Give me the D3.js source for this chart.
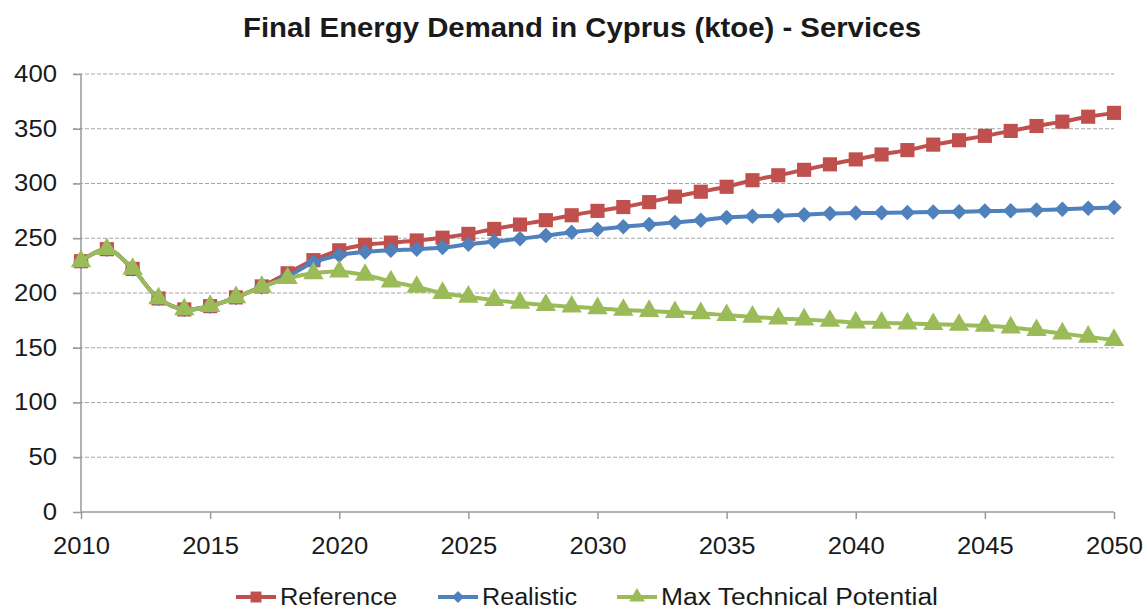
<!DOCTYPE html>
<html>
<head>
<meta charset="utf-8">
<script src="https://cdn.jsdelivr.net/npm/d3@7"></script>
<style>
  body { margin: 0; background: #fff; }
  svg text { font-family: "Liberation Sans", Arial, sans-serif; fill: #1a1a1a; }
  .grid line { stroke: #a6a6a6; stroke-dasharray: 4,2; }
  .axis path, .axis line { stroke: #9a9a9a; stroke-width: 1.5; }
</style>
</head>
<body>
<div class="chart"></div>
<script>
var years = [2010, 2011, 2012, 2013, 2014, 2015, 2016, 2017, 2018, 2019,
             2020, 2021, 2022, 2023, 2024, 2025, 2026, 2027, 2028, 2029,
             2030, 2031, 2032, 2033, 2034, 2035, 2036, 2037, 2038, 2039,
             2040, 2041, 2042, 2043, 2044, 2045, 2046, 2047, 2048, 2049, 2050];

var reference = [229, 240, 222, 195, 185, 188, 196, 206, 218, 230,
                 239, 244, 246, 248, 250.5, 254, 258.5, 262.5, 266.5, 271,
                 275, 278.5, 283, 288, 292.5, 297, 303, 307.5, 312.5, 317.5,
                 322, 326.5, 330.5, 335.5, 339.5, 343.5, 348, 352.5, 356.5, 361, 364.5];

var realistic = [229, 240, 222, 195, 185, 188, 196, 205.5, 215, 228,
                 234.5, 237.5, 239, 240, 241.5, 244.5, 247, 249.5, 252.5, 255.5,
                 258, 260.5, 262.5, 264.5, 266.5, 269, 270, 270.5, 271.5, 272.5,
                 273, 273.2, 273.6, 273.9, 274.2, 274.8, 275.1, 275.7, 276.5, 277.3, 278];

var maxTech = [229, 240, 222, 195, 185, 188, 196, 205.5, 213.5, 218,
               219.5, 216.5, 210.5, 205.5, 200, 196.5, 193.5, 191, 189, 187.5,
               186, 184.5, 183.5, 182.5, 181.5, 179.7, 178.2, 176.7, 175.8, 174.5,
               173, 172.7, 172.1, 171.5, 170.8, 170, 168.5, 166, 163, 160, 157];

var seriesNames = ["Reference", "Realistic", "Max Technical Potential"];
var yTicks = [0, 50, 100, 150, 200, 250, 300, 350, 400];
var xTicks = [2010, 2015, 2020, 2025, 2030, 2035, 2040, 2045, 2050];
var title = "Final Energy Demand in Cyprus (ktoe) - Services";

var W = 1146, H = 609;
var margin = {top: 74, right: 32, bottom: 97, left: 81},
    width = W - margin.left - margin.right,
    height = H - margin.top - margin.bottom;

var colors = ["#c0504d", "#4f81bd", "#9bbb59"];
// square, diamond (square turned 45deg), triangle
var symbols = [d3.symbolSquare, d3.symbolSquare, d3.symbolTriangle];
var symSizes = [200, 120, 180];
var symRot = [0, 45, 0];

var svg0 = d3.select(".chart").append("svg")
    .attr("width", W)
    .attr("height", H);

svg0.append("text")
    .attr("x", 582)
    .attr("y", 37)
    .attr("text-anchor", "middle")
    .attr("textLength", 678)
    .attr("lengthAdjust", "spacingAndGlyphs")
    .style("font-size", "28px")
    .style("font-weight", "bold")
    .text(title);

var svg = svg0.append("g")
    .attr("transform", "translate(" + margin.left + "," + margin.top + ")");

var x = d3.scaleLinear().domain([2010, 2050]).range([0, width]);
var y = d3.scaleLinear().domain([0, 400]).range([height, 0]);

// gridlines
svg.append("g")
    .attr("class", "grid")
    .selectAll("line")
    .data(yTicks.filter(function(d){ return d > 0; }))
    .enter().append("line")
    .attr("x1", -8)
    .attr("x2", width)
    .attr("y1", function(d){ return y(d); })
    .attr("y2", function(d){ return y(d); });

var yAxis = d3.axisLeft(y).tickValues(yTicks).tickSize(8).tickPadding(16);
svg.append("g")
    .attr("class", "y axis")
    .call(yAxis)
    .call(function(g){ g.select(".domain").attr("d", "M0," + height + "V0"); })
    .selectAll("text")
    .style("font-size", "23px")
    .attr("textLength", function(d){ return String(d).length * 14.3; })
    .attr("lengthAdjust", "spacingAndGlyphs");

var xAxis = d3.axisBottom(x).tickValues(xTicks).tickFormat(d3.format("d")).tickSize(7).tickPadding(19);
svg.append("g")
    .attr("class", "x axis")
    .attr("transform", "translate(0," + height + ")")
    .call(xAxis)
    .call(function(g){ g.select(".domain").attr("d", "M0,0H" + width); })
    .selectAll("text")
    .style("font-size", "23px")
    .attr("textLength", 57)
    .attr("lengthAdjust", "spacingAndGlyphs");

var data = [reference, realistic, maxTech];

var line = d3.line()
    .x(function(d, i){ return x(years[i]); })
    .y(function(d){ return y(d); })
    .curve(d3.curveCatmullRom.alpha(0.5));

data.forEach(function(vals, k){
    var g = svg.append("g");
    g.append("path")
        .datum(vals)
        .attr("fill", "none")
        .attr("stroke", colors[k])
        .attr("stroke-width", 4)
        .attr("d", line);

    g.selectAll(".pt")
        .data(vals)
        .enter().append("path")
        .attr("class", "pt")
        .attr("transform", function(d, i){
            return "translate(" + x(years[i]) + "," + y(d) + ") rotate(" + symRot[k] + ")";
        })
        .attr("d", d3.symbol().type(symbols[k]).size(symSizes[k]))
        .attr("fill", colors[k]);
});

// legend
var legendX = [236, 438, 617];
var legendW = [117, 95, 277];
var legend = svg0.append("g").attr("transform", "translate(0,597)");
seriesNames.forEach(function(name, k){
    var lg = legend.append("g").attr("transform", "translate(" + legendX[k] + ",0)");
    lg.append("line")
        .attr("x1", 0).attr("x2", 40)
        .attr("stroke", colors[k]).attr("stroke-width", 4);
    lg.append("path")
        .attr("transform", "translate(20,0) rotate(" + symRot[k] + ")")
        .attr("d", d3.symbol().type(symbols[k]).size(symSizes[k] * 0.6))
        .attr("fill", colors[k]);
    lg.append("text")
        .attr("x", 44)
        .attr("dy", "0.35em")
        .attr("textLength", legendW[k])
        .attr("lengthAdjust", "spacingAndGlyphs")
        .style("font-size", "23px")
        .text(name);
});
</script>
</body>
</html>
